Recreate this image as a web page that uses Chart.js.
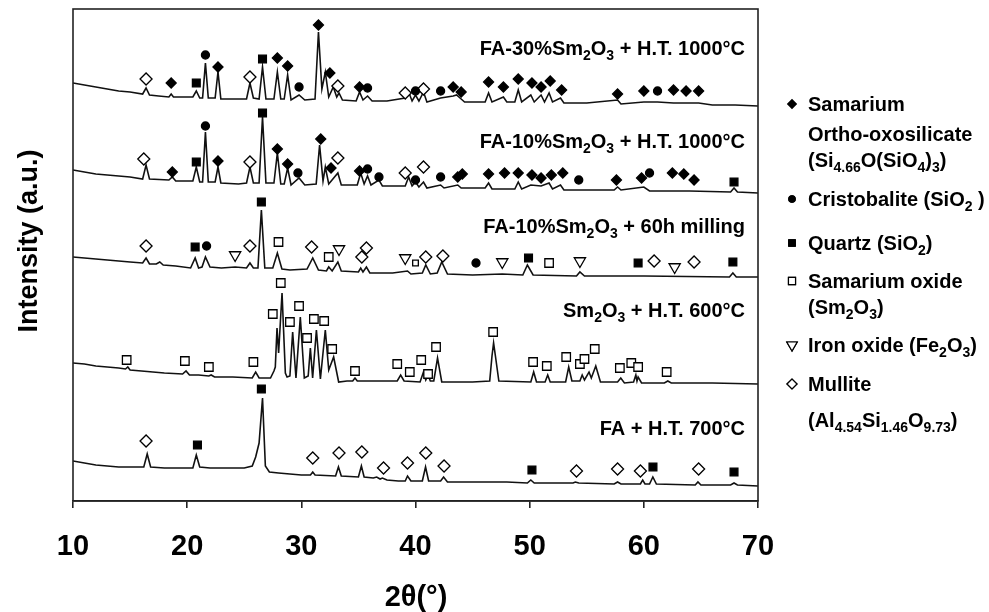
<!DOCTYPE html>
<html>
<head>
<meta charset="utf-8">
<script src="https://cdn.jsdelivr.net/npm/chart.js@4.4.0/dist/chart.umd.min.js"></script>
<style>
  html, body { margin: 0; padding: 0; background: #fff; }
  #wrap { width: 989px; height: 612px; position: relative; }
</style>
</head>
<body>
<div id="wrap"><canvas id="xrd"></canvas></div>
<script>
// 2theta (deg) vs stacked intensity (a.u., offsets included)
const traceFA30 = [
  [10, 418], [11, 416], [12, 414], [13, 412], [14, 410], [15, 409], [16.1, 407], [16.4, 413], [16.7, 406],
  [17.5, 405], [18.4, 404], [18.6, 407], [18.8, 404], [20.5, 404], [20.8, 410], [21.1, 403], [21.35, 403],
  [21.6, 438], [21.85, 403], [22.45, 403], [22.7, 429], [22.95, 402], [24, 402], [25.2, 402], [25.5, 418],
  [25.8, 403], [26.3, 402], [26.6, 434], [26.9, 402], [27.6, 402], [27.9, 429], [28.2, 402], [28.5, 402],
  [28.8, 426], [29.1, 401], [29.8, 406], [30.3, 401], [31.2, 402], [31.5, 469], [31.8, 412], [32.1, 429],
  [32.4, 404], [32.8, 414], [33.1, 404], [33.3, 408], [33.6, 401], [34.8, 400], [35.1, 409], [35.4, 401],
  [35.8, 405], [36.2, 400], [37.5, 400], [39.1, 403], [39.4, 409], [39.7, 400], [40.0, 406], [40.3, 400],
  [40.7, 409], [41.0, 399], [42.2, 403], [43.3, 405], [43.6, 406], [44.0, 402], [44.3, 399], [46.1, 399],
  [46.4, 408], [46.7, 399], [47.7, 404], [48.0, 399], [48.7, 399], [49.0, 411], [49.3, 399], [50.1, 406],
  [50.4, 399], [51.0, 406], [51.3, 399], [51.7, 408], [52.0, 399], [52.7, 403], [53.0, 398], [55, 398],
  [57.7, 401], [58, 397], [60, 399], [61.2, 399], [62.6, 398], [63.7, 398], [64.8, 398], [66, 396],
  [68, 396], [70, 395]
];
const traceFA10 = [
  [10, 331], [11, 329], [12, 327], [13, 326], [14, 325], [15, 324], [16.1, 322], [16.4, 336], [16.7, 322],
  [18.4, 321], [18.7, 324], [19, 320], [20.5, 320], [20.8, 334], [21.1, 319], [21.35, 319], [21.6, 369],
  [21.85, 319], [22.45, 319], [22.7, 334], [22.95, 318], [24.5, 317], [25.2, 318], [25.5, 334], [25.8, 318],
  [26.3, 318], [26.6, 384], [26.9, 318], [27.6, 318], [27.9, 348], [28.2, 317], [28.5, 317], [28.8, 333],
  [29.1, 316], [29.8, 323], [30.3, 316], [31.3, 317], [31.6, 356], [31.9, 320], [32.1, 334], [32.4, 317],
  [33.2, 328], [33.5, 316], [34.9, 316], [35.2, 328], [35.5, 317], [35.8, 325], [36.1, 316], [36.8, 321],
  [37.1, 315], [39.1, 315], [39.4, 324], [39.7, 315], [40.0, 319], [40.3, 314], [40.7, 319], [41, 313],
  [42.2, 316], [42.5, 313], [43.7, 316], [44.0, 313], [46.1, 313], [46.4, 318], [46.7, 312], [48.7, 312],
  [49.0, 319], [49.3, 312], [50.1, 316], [51.0, 315], [51.7, 318], [52.0, 312], [52.7, 316], [53, 311],
  [57.4, 311], [57.7, 314], [58, 311], [60, 314], [60.5, 310], [64, 310], [67.6, 309], [67.9, 313],
  [68.2, 309], [70, 308]
];
const traceMilled = [
  [10, 244], [11, 243], [12, 242], [13, 241], [14, 240], [15, 239], [16.1, 238], [16.4, 243], [16.7, 237],
  [17.3, 237], [17.6, 239], [17.9, 236], [19, 235], [20.3, 233], [20.7, 243], [21.0, 233], [21.3, 234],
  [21.6, 244], [22.0, 234], [23, 233], [24.2, 234], [25.2, 233], [25.5, 238], [25.8, 233], [26.2, 233],
  [26.5, 291], [26.8, 233], [27.5, 233], [27.9, 248], [28.3, 232], [29, 231], [30.5, 232], [31.0, 243],
  [31.5, 231], [32.2, 230], [32.4, 234], [32.7, 230], [33.2, 239], [33.5, 230], [35.0, 229], [35.2, 233],
  [35.4, 229], [35.7, 234], [36, 228], [38, 228], [39.3, 230], [39.6, 227], [40.6, 228], [40.9, 236],
  [41.3, 227], [41.9, 228], [42.3, 239], [42.8, 227], [45, 226], [47.6, 227], [49.4, 226], [49.8, 236],
  [50.3, 226], [54.1, 225], [54.4, 229], [54.8, 225], [60, 225], [67.5, 224], [67.8, 228], [68.1, 224],
  [70, 224]
];
const traceSm2O3 = [
  [10, 138], [11, 137], [12, 135], [13, 134], [14, 133], [14.6, 132], [14.8, 134], [15.0, 131], [16, 130],
  [17, 129], [18, 128], [19.6, 127], [19.9, 130], [20.2, 126], [21, 126], [21.9, 125], [22.1, 126],
  [22.4, 124], [24, 124], [25.7, 123], [26.0, 129], [26.3, 123], [27.3, 123], [27.6, 130], [27.72, 134],
  [27.87, 173], [28.01, 148], [28.31, 208], [28.6, 128], [28.75, 124], [29.0, 125], [29.24, 169],
  [29.53, 123], [29.91, 184], [30.26, 123], [30.6, 125], [30.79, 153], [30.99, 123], [31.32, 171],
  [31.67, 122], [32.1, 171], [32.4, 131], [32.83, 144], [33.27, 119], [34, 120], [34.5, 120], [34.7, 123],
  [34.9, 120], [38.4, 120], [38.7, 126], [39.0, 120], [40.4, 119], [40.7, 129], [40.9, 121], [41.1, 126],
  [41.3, 120], [41.6, 120], [41.93, 143], [42.3, 119], [45, 119], [46.5, 120], [46.7, 145], [46.84, 158],
  [47.0, 145], [47.3, 120], [50.1, 119], [50.35, 129], [50.6, 119], [51.35, 119], [51.58, 126], [51.8, 119],
  [53.15, 119], [53.42, 134], [53.7, 120], [54.4, 120], [54.6, 126], [54.8, 121], [55.2, 129], [55.4, 123],
  [55.79, 135], [56.2, 119], [57.7, 119], [57.98, 123], [58.3, 118], [59.1, 119], [59.3, 126], [59.4, 120],
  [59.5, 124], [59.8, 118], [61.8, 118], [62.1, 120], [62.4, 118], [66, 118], [70, 117]
];
const traceFA = [
  [10, 40], [11, 38], [12, 36], [13, 35], [14, 34], [15, 34], [16.2, 34], [16.5, 47], [16.8, 34], [18, 33],
  [19.5, 33], [20.5, 33], [20.8, 46], [21.1, 34], [22, 33], [23, 33], [24, 33], [25, 33], [25.7, 35],
  [26.0, 44], [26.3, 58], [26.6, 103], [26.85, 35], [27.2, 29], [28, 28], [29, 27], [30, 26], [30.8, 26],
  [31.0, 29], [31.2, 26], [33.0, 25], [33.25, 34], [33.5, 25], [35.0, 24], [35.26, 35], [35.5, 24],
  [36.3, 23], [36.6, 24], [36.9, 22], [37.1, 23], [37.5, 21], [38.5, 20], [39.1, 20], [39.3, 25], [39.6, 20],
  [40.6, 20], [40.88, 34], [41.15, 20], [42.2, 20], [42.46, 24], [42.8, 19], [45, 19], [48, 19], [49.8, 18],
  [50.1, 21], [50.4, 18], [53.8, 18], [54.0, 19], [54.3, 18], [57.4, 17], [57.7, 19], [58, 17], [59.7, 17],
  [59.9, 21], [60.1, 17], [60.5, 17], [60.79, 24], [61.1, 17], [64.5, 16], [64.74, 19], [65, 16],
  [67.6, 16], [67.9, 18], [68.2, 16], [70, 15]
];

// phase markers above the peaks [2theta, y]
const orthoPeaks = [
  [18.6, 418], [22.7, 434], [27.9, 443], [28.8, 435], [31.5, 476], [32.5, 428], [35.1, 414], [43.3, 414],
  [44.0, 409], [46.4, 419], [47.7, 414], [49.0, 422], [50.2, 418], [51.0, 414], [51.8, 420], [52.8, 411],
  [57.7, 407], [60.0, 410], [62.6, 411], [63.7, 410], [64.8, 410],
  [18.7, 329], [22.7, 340], [27.9, 352], [28.8, 337], [31.7, 362], [32.6, 333], [35.1, 330], [43.7, 324],
  [44.1, 327], [46.4, 327], [47.8, 328], [49.0, 328], [50.2, 326], [51.0, 323], [51.9, 326], [52.9, 328],
  [57.6, 321], [59.8, 323], [62.5, 328], [63.5, 327], [64.4, 321]
];
const cristobalitePeaks = [
  [21.6, 446], [29.8, 414], [35.8, 413], [40.0, 410], [42.2, 410], [61.2, 410],
  [21.6, 375], [29.7, 328], [35.8, 332], [36.8, 324], [40.0, 321], [42.2, 324], [54.3, 321], [60.5, 328],
  [21.7, 255], [45.3, 238]
];
const quartzPeaks = [
  [20.8, 418], [26.6, 442],
  [20.8, 339], [26.6, 388], [67.9, 319],
  [20.7, 254], [26.5, 299], [49.9, 243], [59.5, 238], [67.8, 239],
  [20.9, 56], [26.5, 112], [50.2, 31], [60.8, 34], [67.9, 29]
];
const sm2o3Peaks = [
  [28.0, 259], [32.4, 244], [51.7, 238],
  [14.7, 141], [19.8, 140], [21.9, 134], [25.8, 139], [27.5, 187], [28.2, 218], [29.0, 179], [29.8, 195],
  [30.5, 163], [31.1, 182], [32.0, 180], [32.7, 152], [34.7, 130], [38.4, 137], [39.5, 129], [40.5, 141],
  [41.1, 127], [41.8, 154], [46.8, 169], [50.3, 139], [51.5, 135], [53.2, 144], [54.4, 137], [54.8, 142],
  [55.7, 152], [57.9, 133], [58.9, 138], [59.5, 134], [62.0, 129]
];
const sm2o3MinorPeaks = [[40.0, 238]];
const fe2o3Peaks = [[24.2, 246], [33.3, 252], [39.1, 243], [47.6, 239], [54.4, 240], [62.7, 234]];
const mullitePeaks = [
  [16.4, 422], [25.5, 424], [33.2, 415], [39.1, 408], [40.7, 412],
  [16.2, 342], [25.5, 339], [33.2, 343], [39.1, 328], [40.7, 334],
  [16.4, 255], [25.5, 255], [30.9, 254], [35.3, 244], [35.7, 253], [40.9, 244], [42.4, 245], [60.9, 240],
  [64.4, 239],
  [16.4, 60], [31.0, 43], [33.3, 48], [35.3, 49], [37.2, 33], [39.3, 38], [40.9, 48], [42.5, 35], [54.1, 30],
  [57.7, 32], [59.7, 30], [64.8, 32]
];

const xTicks = [10, 20, 30, 40, 50, 60, 70];
const sampleLabels = [
  'FA-30%Sm_2O_3 + H.T. 1000°C',
  'FA-10%Sm_2O_3 + H.T. 1000°C',
  'FA-10%Sm_2O_3 + 60h milling',
  'Sm_2O_3 + H.T. 600°C',
  'FA + H.T. 700°C'
];
const phaseNames = [
  ['Samarium', 'Ortho-oxosilicate', '(Si_{4.66}O(SiO_4)_3)'],
  ['Cristobalite (SiO_2 )'],
  ['Quartz (SiO_2)'],
  ['Samarium oxide', '(Sm_2O_3)'],
  ['Iron oxide (Fe_2O_3)'],
  ['Mullite', '(Al_{4.54}Si_{1.46}O_{9.73})']
];

const FONT = '"Liberation Sans", Arial, sans-serif';
const pts = arr => arr.map(([x, y]) => ({ x, y }));

// phase marker styles, shared by the plot and the legend
const phaseStyles = [
  { pointStyle: 'rectRot', radius: 5, fill: '#000', legendR: 4 },
  { pointStyle: 'circle', radius: 4, fill: '#000', legendR: 3.2 },
  { pointStyle: 'rect', radius: 5.5, fill: '#000', legendR: 4.6 },
  { pointStyle: 'rect', radius: 6, fill: '#fff', legendR: 5 },
  { pointStyle: 'triangle', radius: 6.5, fill: '#fff', rotation: 180, legendR: 6 },
  { pointStyle: 'rectRot', radius: 6, fill: '#fff', legendR: 5 }
];

function markerSet(data, st, r) {
  return {
    type: 'scatter',
    data: pts(data),
    showLine: false,
    pointStyle: st.pointStyle,
    pointRadius: r || st.radius,
    pointRotation: st.rotation || 0,
    pointBackgroundColor: st.fill,
    pointBorderColor: '#000',
    pointBorderWidth: 1.3,
    order: 0
  };
}
function traceSet(data) {
  return {
    type: 'line',
    data: pts(data),
    borderColor: '#111',
    borderWidth: 1.6,
    pointRadius: 0,
    tension: 0,
    order: 1
  };
}

// draw text with _x or _{xx} subscripts
function parseRich(str) {
  const out = [];
  const re = /_\{([^}]*)\}|_(.)/g;
  let last = 0, m;
  while ((m = re.exec(str))) {
    if (m.index > last) out.push([str.slice(last, m.index), false]);
    out.push([m[1] !== undefined ? m[1] : m[2], true]);
    last = re.lastIndex;
  }
  if (last < str.length) out.push([str.slice(last), false]);
  return out;
}
function drawRich(ctx, str, x, y, size, align) {
  const parts = parseRich(str);
  const subSize = Math.round(size * 0.68);
  let w = 0;
  parts.forEach(([t, sub]) => {
    ctx.font = 'bold ' + (sub ? subSize : size) + 'px ' + FONT;
    w += ctx.measureText(t).width;
  });
  let cx = align === 'right' ? x - w : x;
  ctx.textAlign = 'left';
  ctx.textBaseline = 'alphabetic';
  parts.forEach(([t, sub]) => {
    ctx.font = 'bold ' + (sub ? subSize : size) + 'px ' + FONT;
    ctx.fillText(t, cx, sub ? y + size * 0.24 : y);
    cx += ctx.measureText(t).width;
  });
}

const labelBaselines = [55, 148, 233, 317, 435];
const legendLayout = [
  [111, 141, 167], [206], [250], [288, 314], [352], [391, 427]
];

const decorPlugin = {
  id: 'decor',
  afterDraw(chart) {
    const { ctx, chartArea: a } = chart;
    ctx.save();
    ctx.strokeStyle = '#222';
    ctx.lineWidth = 1.6;
    ctx.strokeRect(a.left, a.top, a.right - a.left, a.bottom - a.top);
    ctx.fillStyle = '#000';

    sampleLabels.forEach((s, i) => drawRich(ctx, s, a.right - 13, labelBaselines[i], 20, 'right'));

    // axis titles
    ctx.font = 'bold 29px ' + FONT;
    ctx.textAlign = 'center';
    ctx.textBaseline = 'alphabetic';
    ctx.fillText('2θ(°)', 416, 606);
    ctx.save();
    ctx.translate(37, 241);
    ctx.rotate(-Math.PI / 2);
    ctx.font = 'bold 27px ' + FONT;
    ctx.fillText('Intensity (a.u.)', 0, 0);
    ctx.restore();

    // legend
    phaseNames.forEach((lines, i) => {
      const st = phaseStyles[i];
      const ys = legendLayout[i];
      Chart.helpers.drawPoint(ctx, {
        pointStyle: st.pointStyle, radius: st.legendR, rotation: st.rotation || 0, borderWidth: 1.2
      }, 792, ys[0] - 7);
      ctx.fillStyle = st.fill;
      ctx.strokeStyle = '#000';
      ctx.lineWidth = 1.2;
      ctx.beginPath();
      Chart.helpers.drawPoint(ctx, {
        pointStyle: st.pointStyle, radius: st.legendR, rotation: st.rotation || 0, borderWidth: 1.2
      }, 792, ys[0] - 7);
      ctx.fillStyle = '#000';
      lines.forEach((ln, k) => drawRich(ctx, ln, 808, ys[k], 20, 'left'));
    });
    ctx.restore();
  }
};

new Chart(document.getElementById('xrd'), {
  type: 'scatter',
  data: {
    datasets: [
      markerSet(orthoPeaks, phaseStyles[0]),
      markerSet(cristobalitePeaks, phaseStyles[1]),
      markerSet(quartzPeaks, phaseStyles[2]),
      markerSet(sm2o3Peaks, phaseStyles[3]),
      markerSet(sm2o3MinorPeaks, phaseStyles[3], 4),
      markerSet(fe2o3Peaks, phaseStyles[4]),
      markerSet(mullitePeaks, phaseStyles[5]),
      traceSet(traceFA30),
      traceSet(traceFA10),
      traceSet(traceMilled),
      traceSet(traceSm2O3),
      traceSet(traceFA)
    ]
  },
  options: {
    responsive: true,
    maintainAspectRatio: false,
    animation: false,
    events: [],
    layout: { padding: { left: 73, right: 231, top: 9, bottom: 0 } },
    plugins: { legend: { display: false }, tooltip: { enabled: false } },
    scales: {
      x: {
        type: 'linear',
        min: 10,
        max: 70,
        afterBuildTicks: s => { s.ticks = xTicks.map(v => ({ value: v })); },
        afterFit: s => { s.height = 111; },
        grid: { drawOnChartArea: false, drawTicks: true, tickLength: 7, color: '#222', lineWidth: 1.6 },
        border: { display: true, color: '#222', width: 1.6 },
        ticks: { color: '#000', padding: 22, font: { family: FONT, size: 29, weight: 'bold' } }
      },
      y: {
        display: false,
        min: 0,
        max: 492
      }
    }
  },
  plugins: [decorPlugin]
});
</script>
</body>
</html>
